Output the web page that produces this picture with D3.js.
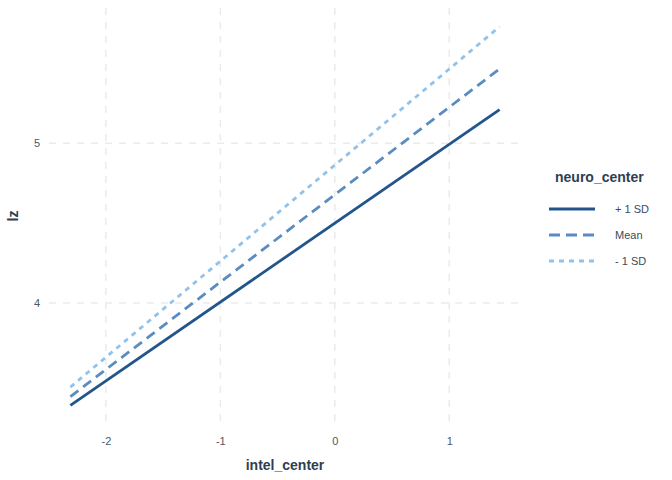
<!DOCTYPE html>
<html><head><meta charset="utf-8">
<script src="https://cdn.jsdelivr.net/npm/d3@7"></script>
<style>body{margin:0;background:#fff}svg{display:block}text{font-family:"Liberation Sans",Arial,sans-serif}</style>
</head><body><svg id="c" width="672" height="480"></svg>
<script>
const groups = ["+ 1 SD", "Mean", "- 1 SD"];
const xStart = [-2.31, -2.31, -2.31];
const xEnd = [1.44, 1.44, 1.44];
const yStart = [3.36, 3.415, 3.475];
const yEnd = [5.21, 5.465, 5.728];
const xTicks = [-2, -1, 0, 1];
const yTicks = [4, 5];
const colors = ["#22558b", "#5b8cc0", "#90c2ec"];
const dashes = [null, "10 6", "5 5"];

const svg = d3.select("#c");
const x = d3.scaleLinear().domain([-2.497, 1.627]).range([49, 521]);
const y = d3.scaleLinear().domain([3.244, 5.845]).range([424, 8]);

const grid = svg.append("g");
xTicks.forEach(t => grid.append("line").attr("x1", x(t)).attr("x2", x(t)).attr("y1", 8).attr("y2", 424)
  .attr("stroke", "#ebebeb").attr("stroke-width", 1.5).attr("stroke-dasharray", "7 7"));
yTicks.forEach(t => grid.append("line").attr("x1", 49).attr("x2", 521).attr("y1", y(t)).attr("y2", y(t))
  .attr("stroke", "#ebebeb").attr("stroke-width", 1.5).attr("stroke-dasharray", "7 7"));

const xa = svg.append("g").attr("transform", "translate(0,429)")
  .call(d3.axisBottom(x).tickValues(xTicks).tickSize(0).tickPadding(8).tickFormat(d3.format("d")));
xa.select(".domain").remove();
xa.selectAll("text").attr("fill", "#4d5767").attr("font-size", 11).text(d => d < 0 ? "-" + Math.abs(d) : d);
const ya = svg.append("g").attr("transform", "translate(40,0)")
  .call(d3.axisLeft(y).tickValues(yTicks).tickSize(0).tickPadding(0).tickFormat(d3.format("d")));
ya.select(".domain").remove();
ya.selectAll("text").attr("fill", "#4d5767").attr("font-size", 11);

groups.forEach((g, i) => {
  const p = svg.append("line")
    .attr("x1", x(xStart[i])).attr("y1", y(yStart[i]))
    .attr("x2", x(xEnd[i])).attr("y2", y(yEnd[i]))
    .attr("stroke", colors[i]).attr("stroke-width", 2.8);
  if (dashes[i]) p.attr("stroke-dasharray", dashes[i]);
});

svg.append("text").attr("x", 285).attr("y", 470).attr("text-anchor", "middle")
  .attr("font-size", 14).attr("font-weight", "bold").attr("fill", "#2f3e52").text("intel_center");
svg.append("text").attr("transform", "translate(18,216) rotate(-90)").attr("text-anchor", "middle")
  .attr("font-size", 14).attr("font-weight", "bold").attr("fill", "#2f3e52").text("lz");

svg.append("text").attr("x", 555).attr("y", 182).attr("font-size", 14).attr("font-weight", "bold")
  .attr("fill", "#2f3e52").text("neuro_center");
groups.forEach((g, i) => {
  const yy = 209 + i * 26;
  const l = svg.append("line").attr("x1", 549).attr("x2", 595).attr("y1", yy).attr("y2", yy)
    .attr("stroke", colors[i]).attr("stroke-width", 2.8);
  if (dashes[i]) l.attr("stroke-dasharray", i === 1 ? "11 6" : "5 5");
  svg.append("text").attr("x", 615).attr("y", yy + 4).attr("font-size", 11).attr("fill", "#3e4a5c").text(g);
});
</script></body></html>
